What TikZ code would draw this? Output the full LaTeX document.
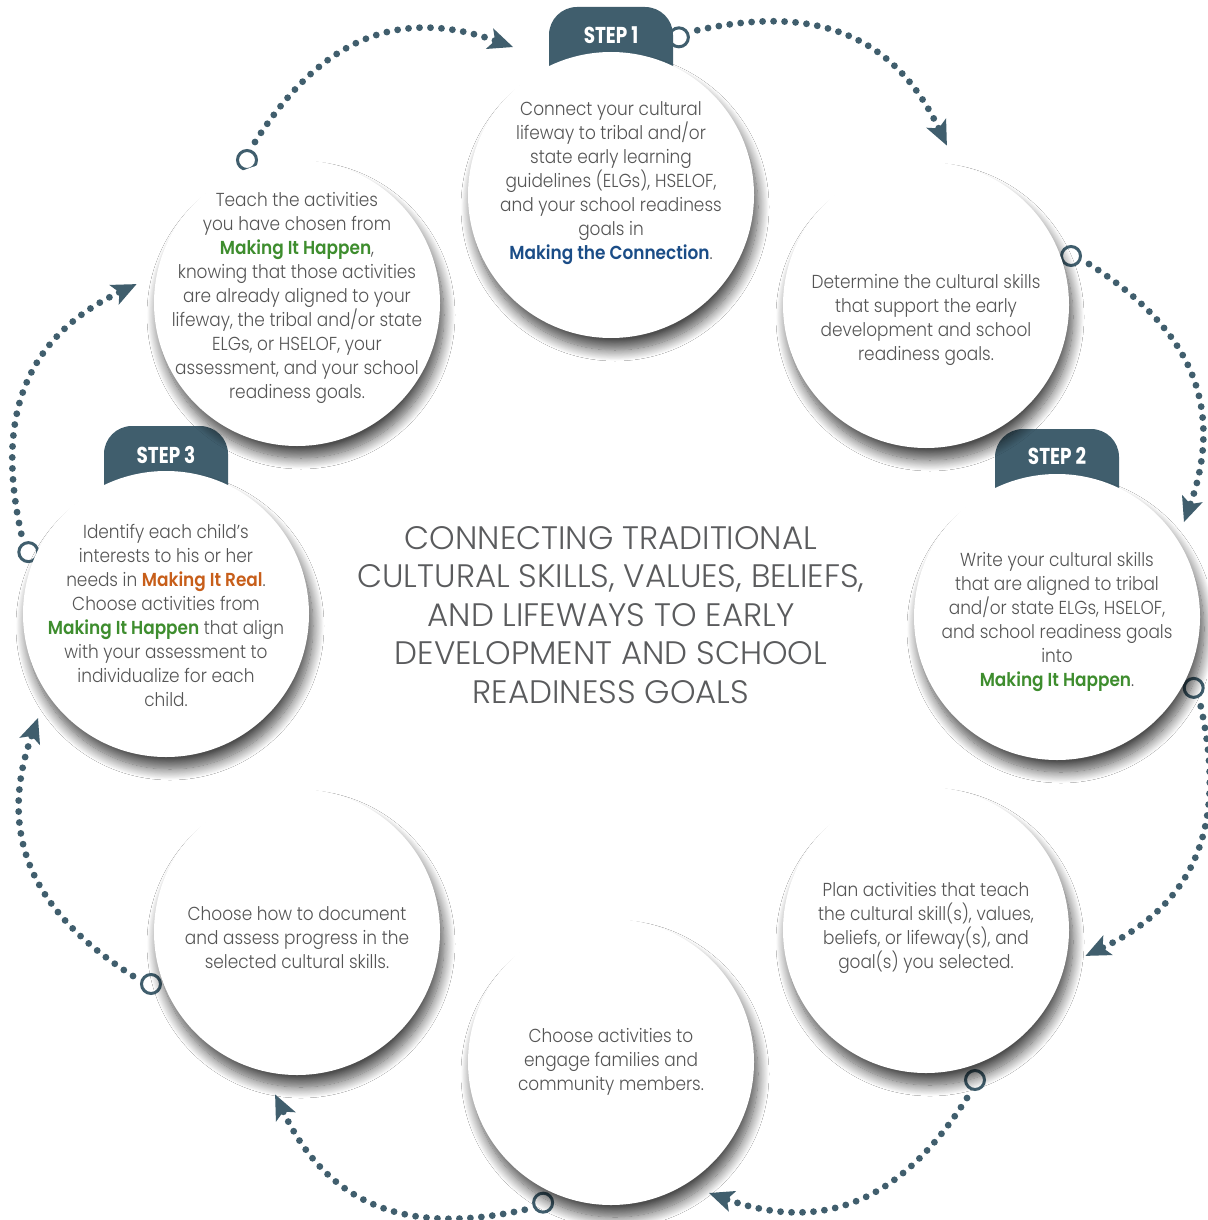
\documentclass[tikz,border=0pt]{standalone}
\usepackage{fontspec}
\IfFontExistsTF{Poppins Light}{%
  \setmainfont{Poppins Light}[FakeStretch=0.9, BoldFont=Poppins SemiBold]
  \newfontfamily\titlefont{Poppins Light}
}{%
  \setmainfont{Poppins}[FakeStretch=0.9]
  \newfontfamily\titlefont{Poppins}
}
\newfontfamily\stepfont{Poppins}[FakeStretch=0.8]
\usetikzlibrary{arrows.meta,shadows.blur}
\definecolor{slate}{HTML}{405E6D}
\definecolor{bodygray}{HTML}{555555}
\definecolor{titlegray}{HTML}{5A5B5D}
\definecolor{mgreen}{HTML}{3E8D2E}
\definecolor{mblue}{HTML}{1B4D87}
\definecolor{morange}{HTML}{C75E1A}
\newcommand{\MkHappen}{{\color{mgreen}\bfseries Making It Happen}}
\newcommand{\MkConn}{{\color{mblue}\bfseries Making the Connection}}
\newcommand{\MkReal}{{\color{morange}\bfseries Making It Real}}
\begin{document}
\begin{tikzpicture}[x=1pt,y=-1pt,
  bubble/.style={circle, fill=white, minimum size=286pt, inner sep=0pt,
    blur shadow={shadow xshift=4pt, shadow yshift=-12pt, shadow blur radius=11pt, shadow blur steps=16, shadow opacity=70}},
  body/.style={text=bodygray, align=center, font=\fontsize{18.8}{24}\selectfont},
  titletext/.style={text=titlegray, align=center, font=\titlefont\fontsize{32.5}{38.5}\selectfont},
  steptab/.style={fill=slate, rounded corners=28pt, minimum width=124pt, minimum height=100pt, inner sep=0pt},
  steplabel/.style={text=white, font=\stepfont\bfseries\fontsize{23}{23}\selectfont},
  ring/.style={circle, draw=slate, line width=3pt, minimum size=19pt, inner sep=0pt},
  conn/.style={draw=slate, line width=6.8pt, line cap=round, dash pattern=on 0pt off 11pt,
    -{Stealth[length=25pt,width=22pt,inset=6pt,line width=0pt]}}
]
\fill[white] (0,0) rectangle (1207,1220);
\useasboundingbox (0,0) rectangle (1207,1220);
\coordinate (ctr) at (611,620);
% connectors (rotationally repeated)
\foreach \i in {1,...,8}{
  \begin{scope}[rotate around={-45*\i:(ctr)}]
    \node[ring] (r\i) at (247,160) {};
    \coordinate (s\i) at (255,142);
    \coordinate (e\i) at (513,47);
    \draw[conn] (s\i) .. controls (303,67) and (375,-2) .. (e\i);
  \end{scope}
}
% step tabs
\node[steptab] (tab1) at (611,57) {};
\node[steptab] (tab2) at (1057,479) {};
\node[steptab] (tab3) at (166,476) {};
% circles
\node[bubble] (c1) at (611,195) {};
\node[bubble] (c2) at (926,305) {};
\node[bubble] (c3) at (1057,617) {};
\node[bubble] (c4) at (926,930) {};
\node[bubble] (c5) at (611,1062) {};
\node[bubble] (c6) at (297,932) {};
\node[bubble] (c7) at (166,614) {};
\node[bubble] (c8) at (297,303) {};
% step labels
\node[steplabel] (l1) at (611,35) {STEP 1};
\node[steplabel] (l2) at (1057,456) {STEP 2};
\node[steplabel] (l3) at (166,455) {STEP 3};
% texts
\node[body] (t1) at (611,183) {Connect your cultural\\lifeway to tribal and/or\\state early learning\\guidelines (ELGs), HSELOF,\\and your school readiness\\goals in\\\MkConn.};
\node[body] (t2) at (926,320) {Determine the cultural skills\\that support the early\\development and school\\readiness goals.};
\node[body] (t3) at (1057,622) {Write your cultural skills\\that are aligned to tribal\\and/or state ELGs, HSELOF,\\and school readiness goals\\into\\\MkHappen.};
\node[body] (t4) at (926,928) {Plan activities that teach\\the cultural skill(s), values,\\beliefs, or lifeway(s), and\\goal(s) you selected.};
\node[body] (t5) at (611,1062) {Choose activities to\\engage families and\\community members.};
\node[body] (t6) at (297,938) {Choose how to document\\and assess progress in the\\selected cultural skills.};
\node[body] (t7) at (166,615) {Identify each child’s\\interests to his or her\\needs in \MkReal.\\Choose activities from\\\MkHappen{} that align\\with your assessment to\\individualize for each\\child.};
\node[body] (t8) at (297,298) {Teach the activities\\you have chosen from\\\MkHappen,\\knowing that those activities\\are already aligned to your\\lifeway, the tribal and/or state\\ELGs, or HSELOF, your\\assessment, and your school\\readiness goals.};
\node[titletext] (title) at (611,615) {CONNECTING TRADITIONAL\\CULTURAL SKILLS, VALUES, BELIEFS,\\AND LIFEWAYS TO EARLY\\DEVELOPMENT AND SCHOOL\\READINESS GOALS};
\end{tikzpicture}
\end{document}
